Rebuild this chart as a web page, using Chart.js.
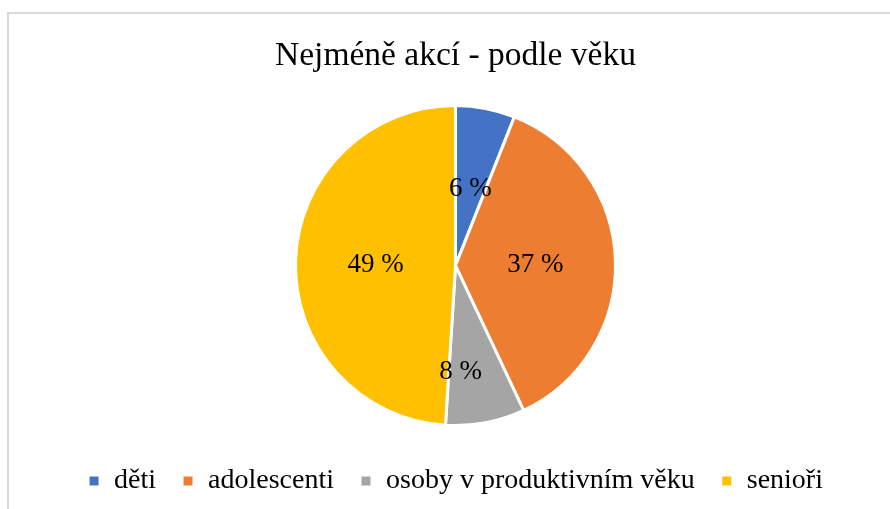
<!DOCTYPE html>
<html lang="cs">
<head>
<meta charset="utf-8">
<title>Nejméně akcí - podle věku</title>
<script src="https://cdn.jsdelivr.net/npm/chart.js@4"></script>
<style>
  html, body { margin:0; padding:0; background:#fff; }
  #wrap { position:relative; width:890px; height:509px; overflow:hidden; }
  #frame { position:absolute; left:7px; top:12px; width:900px; height:600px; border:2px solid #d9d9d9; box-sizing:border-box; }
  #chart { position:absolute; left:0; top:0; }
</style>
</head>
<body>
<div id="wrap">
  <div id="frame"></div>
  <canvas id="chart" width="890" height="509"></canvas>
</div>
<script>
const title = 'Nejméně akcí - podle věku';
const categories = ['děti', 'adolescenti', 'osoby v produktivním věku', 'senioři'];
const shares = [6, 37, 8, 49];
const colors = ['#4472C4', '#ED7D31', '#A5A5A5', '#FFC000'];
// label placement per slice: share of radius, and a small angle nudge (degrees)
const labelRadius = [0.5, 0.5, 0.65, 0.5];
const labelNudge = [0, 0, 8, 0];

const FONT = "'Liberation Serif', 'Times New Roman', serif";

// slice percentage labels
const sliceLabels = {
  id: 'sliceLabels',
  afterDatasetsDraw(chart) {
    const ctx = chart.ctx;
    const meta = chart.getDatasetMeta(0);
    ctx.save();
    ctx.font = `27px ${FONT}`;
    ctx.fillStyle = '#000';
    ctx.textAlign = 'center';
    ctx.textBaseline = 'middle';
    meta.data.forEach((arc, i) => {
      const p = arc.getProps(['x', 'y', 'startAngle', 'endAngle', 'outerRadius'], true);
      const mid = (p.startAngle + p.endAngle) / 2 + labelNudge[i] * Math.PI / 180;
      const r = p.outerRadius * labelRadius[i];
      ctx.fillText(shares[i] + ' %', p.x + Math.cos(mid) * r, p.y + Math.sin(mid) * r + 2);
    });
    ctx.restore();
  }
};

new Chart(document.getElementById('chart'), {
  type: 'pie',
  data: {
    labels: categories,
    datasets: [{
      data: shares,
      backgroundColor: colors,
      borderColor: '#fff',
      borderWidth: 3,
      hoverOffset: 0,
      radius: 160
    }]
  },
  options: {
    responsive: false,
    animation: false,
    events: [],
    layout: { padding: { left: 21, right: 0, top: 0, bottom: 4 } },
    plugins: {
      title: {
        display: true,
        text: title,
        color: '#000',
        font: { family: FONT, size: 33.5, weight: 'normal' },
        padding: { top: 36, bottom: 14 }
      },
      legend: {
        position: 'bottom',
        labels: {
          color: '#000',
          font: { family: FONT, size: 28 },
          boxWidth: 12,
          boxHeight: 12,
          padding: 26
        }
      },
      tooltip: { enabled: false }
    }
  },
  plugins: [sliceLabels]
});
</script>
</body>
</html>
